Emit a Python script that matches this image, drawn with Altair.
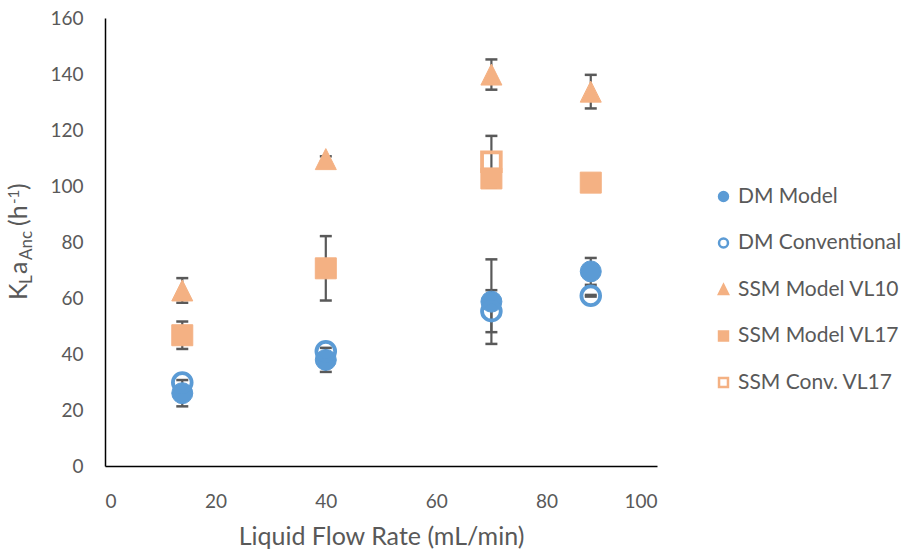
import altair as alt
import pandas as pd

# ---------------- data ----------------
flow = [14, 40, 70, 88]
series_names = ["DM Model", "DM Conventional", "SSM Model VL10", "SSM Model VL17", "SSM Conv. VL17"]
hollow_series = ["DM Conventional", "SSM Conv. VL17"]

dm_model = [26.0, 37.9, 58.7, 69.5]
dm_model_err = [4.7, 4.3, 15.1, 4.8]
dm_conv = [29.8, 41.0, 55.3, 60.8]
dm_conv_err = [None, None, 7.5, 0.3]
ssm_vl10 = [62.7, 109.6, 139.8, 133.7]
ssm_vl10_err = [4.4, 1.0, 5.4, 6.0]
ssm_vl17 = [46.7, 70.6, 102.7, 101.2]
ssm_vl17_err = [4.9, 11.5, None, None]
ssm_conv_vl17 = [None, None, 108.7, None]
ssm_conv_vl17_err = [None, None, 9.2, None]

x_ticks = [0, 20, 40, 60, 80, 100]
y_ticks = [0, 20, 40, 60, 80, 100, 120, 140, 160]

# ---------------- tables ----------------
all_vals = [dm_model, dm_conv, ssm_vl10, ssm_vl17, ssm_conv_vl17]
all_errs = [dm_model_err, dm_conv_err, ssm_vl10_err, ssm_vl17_err, ssm_conv_vl17_err]
rows, erows = [], []
for name, vals, errs in zip(series_names, all_vals, all_errs):
    for xv, yv, ev in zip(flow, vals, errs):
        if yv is None:
            continue
        rows.append({"series": name, "flow": xv, "kla": yv, "hollow": name in hollow_series})
        if ev is not None:
            erows.append({"series": name, "flow": xv, "lo": yv - ev, "hi": yv + ev})
pts = pd.DataFrame(rows)
errdf = pd.DataFrame(erows)

BLUE = "#5B9BD5"
ORANGE = "#F4B183"
GREY = "#595959"
TXT = "#595959"
FONT = "Lato"
TRI = "M-1,1L1,1L0,-1Z"

xs = alt.Scale(domain=[0, 100], nice=False)
ys = alt.Scale(domain=[0, 160], nice=False)

x_enc = alt.X("flow:Q", scale=xs, axis=alt.Axis(values=x_ticks, title="Liquid Flow Rate (mL/min)",
                                                 labelPadding=26, titlePadding=13))
y_enc = alt.Y("kla:Q", scale=ys, axis=alt.Axis(values=y_ticks, title=None, labelPadding=22))

rules = alt.Chart(errdf).mark_rule(color=GREY, strokeWidth=2.2).encode(
    x=alt.X("flow:Q", scale=xs), y=alt.Y("lo:Q", scale=ys), y2="hi:Q")
cap_lo = alt.Chart(errdf).mark_tick(color=GREY, orient="horizontal", size=12, thickness=2.5, opacity=1).encode(
    x=alt.X("flow:Q", scale=xs), y=alt.Y("lo:Q", scale=ys))
cap_hi = alt.Chart(errdf).mark_tick(color=GREY, orient="horizontal", size=12, thickness=2.5, opacity=1).encode(
    x=alt.X("flow:Q", scale=xs), y=alt.Y("hi:Q", scale=ys))

leg = alt.Legend(title=None, orient="none", legendX=608, legendY=168, labelLimit=0)
shape_sc = alt.Scale(domain=series_names, range=["circle", "circle", TRI, "square", "square"])
fill_sc = alt.Scale(domain=series_names, range=[BLUE, "transparent", ORANGE, ORANGE, "transparent"])
stroke_sc = alt.Scale(domain=series_names, range=[BLUE, BLUE, ORANGE, ORANGE, ORANGE])


def marker_layer(hollow, size, sw):
    return alt.Chart(pts).transform_filter(
        alt.datum.hollow == hollow
    ).mark_point(opacity=1, fillOpacity=1, size=size, strokeWidth=sw).encode(
        x=x_enc,
        y=y_enc,
        shape=alt.Shape("series:N", scale=shape_sc, legend=leg),
        fill=alt.Fill("series:N", scale=fill_sc, legend=leg),
        stroke=alt.Stroke("series:N", scale=stroke_sc, legend=leg),
    )


filled_pts = marker_layer(False, 441, 1)
hollow_pts = marker_layer(True, 350, 3.8)


def tt(txt, x, y, size):
    return alt.Chart(alt.Data(values=[{}])).mark_text(
        angle=270, align="left", baseline="alphabetic", font=FONT, fontSize=size, color=TXT
    ).encode(x=alt.value(x), y=alt.value(y), text=alt.value(txt))


# y-axis title K_L a_Anc (h^-1), built from pieces (positions relative to plot origin)
title_parts = [
    tt("K", -78, 282, 25),
    tt("L", -73, 266, 17),
    tt("a", -78, 256, 25),
    tt("Anc", -73, 242, 17),
    tt("(h", -78, 208, 25),
    tt("-1", -86, 186, 15),
    tt(")", -78, 172, 25),
]

chart = alt.layer(rules, cap_lo, cap_hi, filled_pts, hollow_pts, *title_parts).properties(
    width=552, height=448,
    padding={"left": 105, "top": 18, "right": 252, "bottom": 89},
    autosize="none",
).configure_view(stroke=None).configure_axis(
    domainColor="#000000", domainWidth=1.5, ticks=False, grid=False,
    labelFont=FONT, labelFontSize=19, labelColor=TXT,
    titleFont=FONT, titleFontSize=25, titleColor=TXT, titleFontWeight="normal",
).configure_legend(
    labelFont=FONT, labelFontSize=21, labelColor=TXT, symbolSize=80, symbolStrokeWidth=2.5,
    rowPadding=24.5, labelOffset=4,
)

chart.save("out.html", embed_options={"renderer": "svg", "actions": False})
